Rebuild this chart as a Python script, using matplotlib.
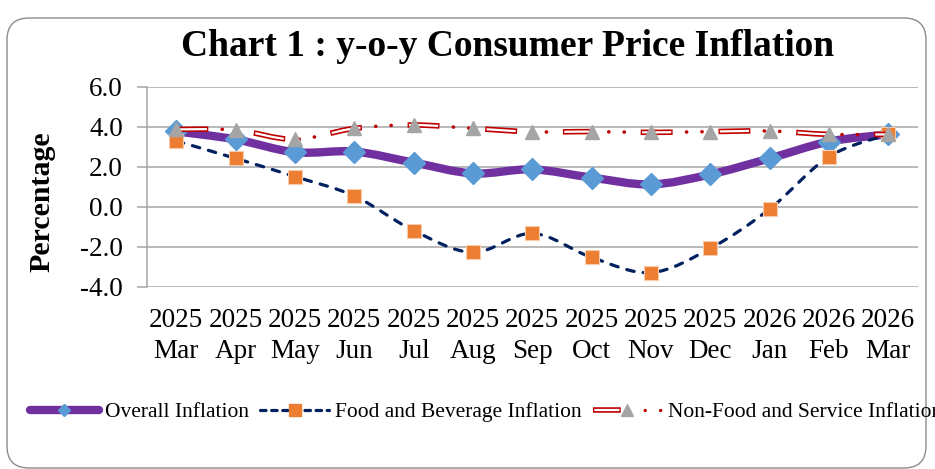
import matplotlib
matplotlib.use('Agg')
import matplotlib.pyplot as plt
from matplotlib.path import Path
from matplotlib.patches import PathPatch, FancyBboxPatch
from matplotlib.lines import Line2D
from matplotlib.transforms import IdentityTransform

# --- data ---
years = ['2025'] * 10 + ['2026'] * 3
months = ['Mar', 'Apr', 'May', 'Jun', 'Jul', 'Aug', 'Sep', 'Oct', 'Nov', 'Dec', 'Jan', 'Feb', 'Mar']
overall = [3.78, 3.38, 2.74, 2.77, 2.22, 1.68, 1.88, 1.47, 1.13, 1.63, 2.43, 3.27, 3.63]
food = [3.30, 2.43, 1.52, 0.55, -1.18, -2.27, -1.32, -2.52, -3.28, -2.07, -0.10, 2.52, 3.63]
nonfood = [3.88, 3.85, 3.38, 3.93, 4.10, 3.93, 3.76, 3.77, 3.73, 3.77, 3.80, 3.63, 3.63]
y_ticks = [6.0, 4.0, 2.0, 0.0, -2.0, -4.0]

labels = [y + '\n' + m for y, m in zip(years, months)]
x = list(range(len(labels)))

# colours
purple = '#7030A0'
blue = '#5B9BD5'
navy = '#002060'
orange = '#ED7D31'
red = '#C00000'
grey = '#A5A5A5'

plt.rcParams['font.family'] = ['Liberation Serif', 'DejaVu Serif']
plt.rcParams['lines.scale_dashes'] = False


def smooth_path(xs, ys):
    # excel style smoothed line (bezier through the points)
    verts = [(xs[0], ys[0])]
    codes = [Path.MOVETO]
    n = len(xs)
    for i in range(n - 1):
        p0 = max(i - 1, 0)
        p3 = min(i + 2, n - 1)
        c1 = (xs[i] + (xs[i + 1] - xs[p0]) / 6, ys[i] + (ys[i + 1] - ys[p0]) / 6)
        c2 = (xs[i + 1] - (xs[p3] - xs[i]) / 6, ys[i + 1] - (ys[p3] - ys[i]) / 6)
        verts += [c1, c2, (xs[i + 1], ys[i + 1])]
        codes += [Path.CURVE4] * 3
    return Path(verts, codes)


fig = plt.figure(figsize=(9.35, 4.69), dpi=100)
ax = fig.add_axes([146.7 / 935, 1 - 287 / 469, (918 - 146.7) / 935, 200 / 469])

# rounded outer border
fig.patches.append(FancyBboxPatch((7, 1), 919, 450, boxstyle='round,pad=0,rounding_size=22',
                                  transform=IdentityTransform(), fill=False, ec='#8C8C8C', lw=1.0))

# overall inflation
ax.add_patch(PathPatch(smooth_path(x, overall), fill=False, ec=purple, lw=6, capstyle='round', zorder=3))
ax.plot(x, overall, ls='none', marker='D', ms=11.5, mfc=blue, mec=blue, zorder=3.1)

# food and beverage
ax.add_patch(PathPatch(smooth_path(x, food), fill=False, ec=navy, lw=2.3,
                       linestyle=(0, (5.5, 6.5)), capstyle='round', zorder=3.2))
ax.plot(x, food, ls='none', marker='s', ms=10.5, mfc=orange, mec='#F8CBAD', mew=0.8, zorder=3.3)

# non-food and service: double long dash + two dots
nf_path = smooth_path(x, nonfood)
ax.add_patch(PathPatch(nf_path, fill=False, ec=red, lw=4, linestyle=(0, (23, 33)), capstyle='butt', zorder=3.4))
ax.add_patch(PathPatch(nf_path, fill=False, ec='white', lw=1.6, linestyle=(55, (21, 35)), capstyle='butt', zorder=3.5))
ax.add_patch(PathPatch(nf_path, fill=False, ec=red, lw=2.6, linestyle=(23, (0.1, 11, 0.1, 44.8)), capstyle='round', zorder=3.5))
ax.plot(x, nonfood, ls='none', marker='^', ms=10.5, mfc=grey, mec=grey, zorder=3.7)

# axes
ax.set_xlim(-0.5, len(labels) - 0.5)
ax.set_ylim(-4, 6)
ax.set_yticks(y_ticks)
ax.set_yticklabels([f'{v:.1f}' for v in y_ticks])
ax.set_xticks(x)
ax.set_xticklabels(labels, linespacing=1.3)
ax.grid(axis='y', color='#A6A6A6', lw=1.1)
ax.set_axisbelow(True)
for s in ['top', 'right', 'bottom']:
    ax.spines[s].set_visible(False)
ax.spines['left'].set_color('#A6A6A6')
ax.spines['left'].set_linewidth(1.1)
ax.tick_params(axis='y', length=7, width=1.1, color='#A6A6A6', pad=10, labelsize=19.5)
ax.tick_params(axis='x', length=0, pad=15, labelsize=19.5)

fig.text(508 / 935, 1 - 46 / 469, 'Chart 1 : y-o-y Consumer Price Inflation', ha='center', va='center',
         fontsize=27, fontweight='bold')
fig.text(42 / 935, 1 - 202 / 469, 'Percentage', rotation=90, ha='center', va='center',
         fontsize=21.5, fontweight='bold')

# legend
h_overall = Line2D([], [], color=purple, lw=6, solid_capstyle='round', marker='D', ms=6, mfc=blue, mec=blue)
h_food = Line2D([], [], color=navy, lw=2.3, linestyle=(0, (4, 4)), dash_capstyle='round',
                marker='s', ms=8, mfc=orange, mec=orange)
h_nf = (Line2D([], [], color=red, lw=4, linestyle=(0, (20, 40))),
        Line2D([], [], color='white', lw=1.6, linestyle=(59, (18, 42))),
        Line2D([], [], color=red, lw=2.4, linestyle=(34, (0.1, 11, 0.1, 60)), dash_capstyle='round'),
        Line2D([], [], ls='none', marker='^', ms=8, mfc=grey, mec=grey))
fig.legend([h_overall, h_food, h_nf],
           ['Overall Inflation', 'Food and Beverage Inflation', 'Non-Food and Service Inflation'],
           loc='center left', bbox_to_anchor=(30 / 935, 1 - 412 / 469), ncol=3, frameon=False,
           fontsize=15.5, handlelength=3.2, handletextpad=0.3, columnspacing=0.5, borderpad=0, borderaxespad=0)

fig.savefig('out.png', dpi=100)
